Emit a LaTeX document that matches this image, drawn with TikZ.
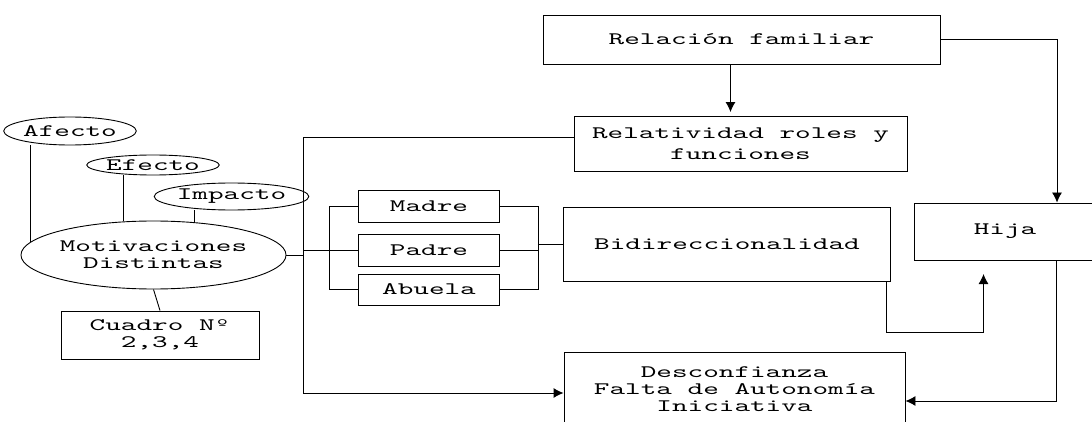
\documentclass[tikz,border=0pt]{standalone}
\usepackage{fontspec}
\setmainfont{lmmono10-regular.otf}[FakeStretch=1.7]
\usetikzlibrary{shapes.geometric,arrows.meta}
\tikzset{
  box/.style={draw, rectangle, inner sep=0pt, align=center},
  oval/.style={draw, ellipse, inner sep=0pt, align=center},
  arr/.style={-{Latex[length=10pt,width=10pt]}},
}
\begin{document}
\begin{tikzpicture}[x=1pt, y=-1pt, line width=0.9pt, font=\fontsize{17.5}{17}\selectfont]
\useasboundingbox (0,0) rectangle (1092,422);

% left part
\node[oval, minimum width=123pt, minimum height=28pt] (afecto)  at (70,131)     {Afecto};
\node[oval, minimum width=118pt, minimum height=20pt] (efecto)  at (153,165)    {Efecto};
\node[oval, minimum width=133pt, minimum height=27pt] (impacto) at (231.5,196.5) {Impacto};
\node[oval, minimum width=247pt, minimum height=68pt] (motiv)   at (153.5,255)  {Motivaciones\\Distintas};
\node[box, minimum width=198pt, minimum height=48pt]  (cuadro)  at (160,335)    {Cuadro Nº\\2,3,4};

% family members
\node[box, minimum width=141pt, minimum height=32pt] (madre)  at (429,206)   {Madre};
\node[box, minimum width=141pt, minimum height=32pt] (padre)  at (429,250)   {Padre};
\node[box, minimum width=141pt, minimum height=31pt] (abuela) at (429,289.5) {Abuela};

% right part
\node[box, minimum width=397pt, minimum height=49pt] (relfam) at (741.5,39.5) {Relación familiar};
\node[box, minimum width=333pt, minimum height=55pt,
      font=\fontsize{17.5}{21}\selectfont]            (rel)    at (740.5,144)  {Relatividad roles y\\funciones};
\node[box, minimum width=327pt, minimum height=74pt] (bid)    at (727,244)    {Bidireccionalidad};
\node[box, minimum width=182pt, minimum height=57pt] (hija)   at (1005,231.5) {Hija};
\node[box, minimum width=341pt, minimum height=74pt] (desc)   at (734.5,389)  {Desconfianza\\Falta de Autonomía\\Iniciativa};

\coordinate (spbot) at (303,393);
\coordinate (bidtip) at (983.5,274);

\draw (motiv.174) -- (motiv.174 |- afecto.south);
\draw (motiv.132) -- (motiv.132 |- efecto.south);
\draw (motiv.39)  -- (motiv.39 |- impacto.south);
\draw (motiv.south) -- (cuadro.north);

\draw[arr] ([yshift=7pt]rel.west) -| (spbot) -- ([yshift=-4pt]desc.west);
\draw (motiv.east) -- (motiv.east -| spbot);
\draw (padre.west -| spbot) -- (padre.west);

\draw (madre.west) -- ++(-29,0) |- (abuela.west);
\draw (madre.east) -- ++(38,0) coordinate (brk) |- (abuela.east);
\draw (padre.east) -- (padre.east -| brk);
\draw (bid.west -| brk) -- (bid.west);

\draw[arr, shorten >=4pt] ([xshift=-11pt]relfam.south) -- ([xshift=-11pt]relfam.south |- rel.north);
\draw[arr] (relfam.east) -| ([xshift=52pt]hija.north);
\draw[arr] ([xshift=-5pt]bid.south east) -- ++(0,51) -| (bidtip);
\draw[arr] ([xshift=51pt]hija.south) |- ([yshift=-12pt]desc.east);

\end{tikzpicture}
\end{document}
